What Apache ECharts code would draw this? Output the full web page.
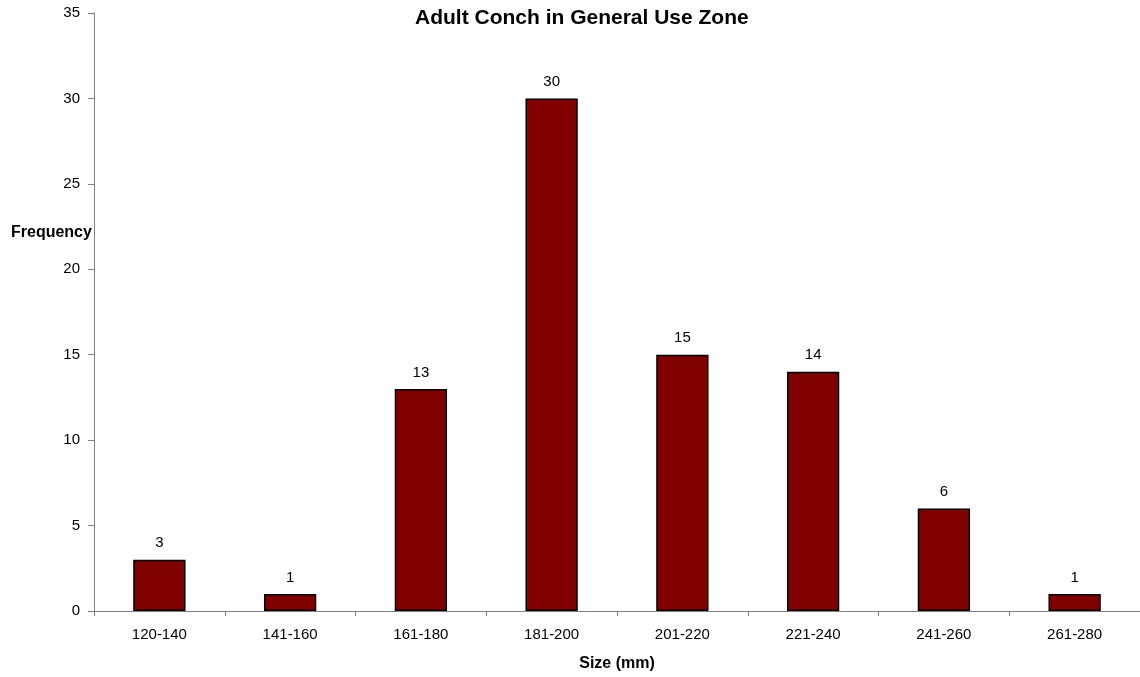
<!DOCTYPE html>
<html><head><meta charset="utf-8">
<script src="https://cdn.jsdelivr.net/npm/echarts@6/dist/echarts.min.js"></script>
<style>html,body{margin:0;padding:0;background:#fff}#c{width:1140px;height:677px}</style>
</head><body><div id="c"></div>
<script>
const categories = ['120-140','141-160','161-180','181-200','201-220','221-240','241-260','261-280'];
const frequency = [3,1,13,30,15,14,6,1];
const titleText = 'Adult Conch in General Use Zone';
const xName = 'Size (mm)';
const yName = 'Frequency';

const chart = echarts.init(document.getElementById('c'));
const font = 'Liberation Sans, Arial, sans-serif';
chart.setOption({
  animation: false,
  textStyle: {fontFamily: font},
  title: {text: titleText, left: 415, top: 8, padding: 0, textStyle: {fontFamily: font, fontSize: 21, fontWeight: 'bold', color: '#000'}},
  grid: {left: 94, right: 0, top: 13, bottom: 66, containLabel: false, outerBoundsMode: 'none'},
  graphic: [{type: 'text', left: 11, top: 225, style: {text: yName, font: 'bold 16px ' + font, fill: '#000'}}],
  xAxis: {
    type: 'category', data: categories,
    name: xName, nameLocation: 'middle', nameGap: 45,
    nameTextStyle: {fontFamily: font, fontSize: 16, fontWeight: 'bold', color: '#000'},
    axisLine: {lineStyle: {color: '#808080', width: 1}},
    axisTick: {show: true, length: 5, lineStyle: {color: '#808080'}},
    axisLabel: {color: '#000', fontSize: 15, margin: 16, fontFamily: font}
  },
  yAxis: {
    type: 'value', min: 0, max: 35, interval: 5,
    axisLine: {show: true, lineStyle: {color: '#808080', width: 1}},
    axisTick: {show: true, length: 6, lineStyle: {color: '#808080'}},
    axisLabel: {color: '#000', fontSize: 15, margin: 14, fontFamily: font},
    splitLine: {show: false}
  },
  series: [{
    type: 'bar', data: frequency, barWidth: '40%',
    itemStyle: {color: '#800000', borderColor: '#000', borderWidth: 1.5},
    label: {show: true, position: 'top', distance: 9, color: '#000', fontSize: 15, fontFamily: font}
  }]
});
</script></body></html>
